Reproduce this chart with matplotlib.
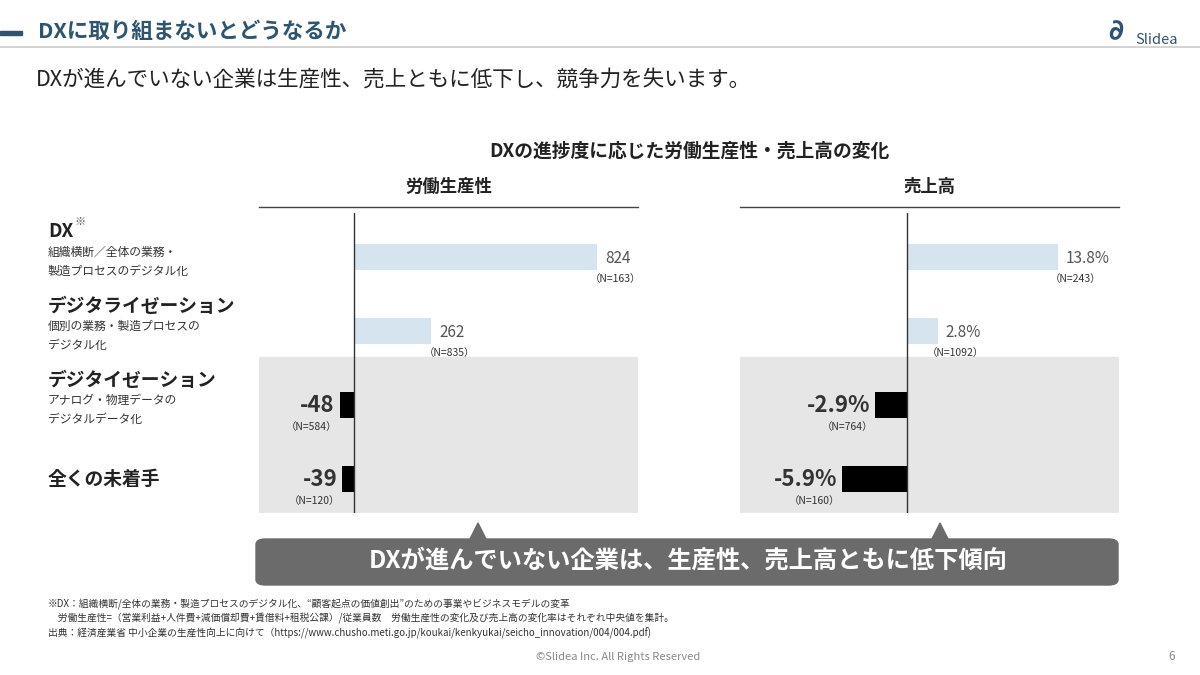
import matplotlib
matplotlib.use("Agg")
import matplotlib.pyplot as plt
from matplotlib.patches import Rectangle, FancyBboxPatch, Polygon

plt.rcParams['font.family'] = ['Noto Sans CJK JP', 'DejaVu Sans']

categories = ["DX", "デジタライゼーション", "デジタイゼーション", "全くの未着手"]
subtexts = ["組織横断／全体の業務・\n製造プロセスのデジタル化", "個別の業務・製造プロセスの\nデジタル化",
            "アナログ・物理データの\nデジタルデータ化", ""]
productivity = [824, 262, -48, -39]
productivity_n = [163, 835, 584, 120]
sales = [13.8, 2.8, -2.9, -5.9]
sales_n = [243, 1092, 764, 160]

W, H = 1200, 675
fig = plt.figure(figsize=(12, 6.75), dpi=100)

def fx(x): return x / W
def fy(y): return 1 - y / H

def txt(x, y, s, **kw):
    fig.text(fx(x), fy(y), s, **kw)

# header
fig.add_artist(Rectangle((0, fy(35)), fx(22), 4/H, color="#2f5470", transform=fig.transFigure))
txt(38, 32, "DXに取り組まないとどうなるか", fontsize=15.5, fontweight='bold', color="#2f5470", va='center')
fig.add_artist(plt.Line2D([0, 1], [fy(47), fy(47)], color="#cccccc", lw=1.2, transform=fig.transFigure))
txt(1156, 40, "Slidea", fontsize=10.5, color="#2f5470", va='center', ha='center')
txt(1116, 31, "∂", fontsize=20, color="#2f5470", va='center', ha='center', fontweight='bold', family='DejaVu Sans')
txt(36, 80, "DXが進んでいない企業は生産性、売上ともに低下し、競争力を失います。", fontsize=15.5, color="#222222", va='center')

txt(689, 151, "DXの進捗度に応じた労働生産性・売上高の変化", fontsize=13.5, fontweight='bold', ha='center', va='center', color="#222")

# row labels
rows_y = [257, 331, 405, 479]
for i, (c, s) in enumerate(zip(categories, subtexts)):
    y = rows_y[i]
    if s:
        txt(48, y - 25, c, fontsize=13.5, fontweight='bold', va='center', color="#222")
        txt(48, y + 5, s, fontsize=8.5, va='center', color="#333", linespacing=1.6)
    else:
        txt(48, y, c, fontsize=13.5, fontweight='bold', va='center', color="#222")
txt(74, 222, "※", fontsize=8, va='center', color="#555")

def panel(x0, x1, zero_x, scale_px, vals, ns, title, fmt):
    ax = fig.add_axes([fx(x0), fy(513), fx(x1) - fx(x0), (513 - 213) / H])
    xmin = -(zero_x - x0) / scale_px
    xmax = (x1 - zero_x) / scale_px
    ymax = 3 + 34/74
    ax.set_xlim(xmin, xmax)
    ax.set_ylim(ymax, -44/74)
    gstart = 1 + 26/74
    ax.add_patch(Rectangle((xmin, gstart), xmax - xmin, ymax - gstart, color="#e6e6e6", zorder=0))
    ypos = list(range(len(vals)))
    colors = ["#d5e4ee" if v > 0 else "#000000" for v in vals]
    ax.barh(ypos, vals, height=26/74, color=colors, zorder=2)
    ax.axvline(0, color="#333", lw=1, zorder=3)
    px = 1 / scale_px
    for y, v, n in zip(ypos, vals, ns):
        if v > 0:
            ax.text(v + 8 * px, y + 0.02, fmt(v), fontsize=11, color="#555", va='center', ha='left')
            ax.text(v + 18 * px, y + 0.3, f"（N={n}）", fontsize=7.5, color="#333", va='center', ha='center')
        else:
            ax.text(v - 5 * px, y, fmt(v), fontsize=16, fontweight='bold', color="#333", va='center', ha='right')
            ax.text(v - 28 * px, y + 0.3, f"（N={n}）", fontsize=7.5, color="#333", va='center', ha='center')
    ax.axis('off')
    txt((x0 + x1) / 2, 187, title, fontsize=12.5, fontweight='bold', ha='center', va='center', color="#222")
    fig.add_artist(plt.Line2D([fx(x0), fx(x1)], [fy(207), fy(207)], color="#444", lw=1, transform=fig.transFigure))

panel(259, 638, 354, 243/824, productivity, productivity_n, "労働生産性", lambda v: f"{v:g}")
panel(740, 1119, 907, 151/13.8, sales, sales_n, "売上高", lambda v: f"{v:.1f}%")

# callout
fig.add_artist(FancyBboxPatch((fx(256), fy(585)), fx(1118) - fx(256), (585 - 539) / H,
                              boxstyle="round,pad=0,rounding_size=0.008", color="#6b6b6b", transform=fig.transFigure))
for cx in (478, 940):
    fig.add_artist(Polygon([(fx(cx - 8), fy(539)), (fx(cx + 8), fy(539)), (fx(cx), fy(523))],
                           closed=True, color="#6b6b6b", transform=fig.transFigure))
txt(688, 561, "DXが進んでいない企業は、生産性、売上高ともに低下傾向", fontsize=17.5, fontweight='bold', color="white", ha='center', va='center')

# footnotes
notes = ["※DX：組織横断/全体の業務・製造プロセスのデジタル化、“顧客起点の価値創出”のための事業やビジネスモデルの変革",
         "　労働生産性=（営業利益+人件費+減価償却費+賃借料+租税公課）/従業員数　労働生産性の変化及び売上高の変化率はそれぞれ中央値を集計。",
         "出典：経済産業省 中小企業の生産性向上に向けて（https://www.chusho.meti.go.jp/koukai/kenkyukai/seicho_innovation/004/004.pdf)"]
for i, n in enumerate(notes):
    txt(48, 604 + i * 14.5, n, fontsize=7, color="#333", va='center')
txt(618, 657, "©Slidea Inc. All Rights Reserved", fontsize=8, color="#888", ha='center', va='center')
txt(1172, 657, "6", fontsize=8.5, color="#888", ha='center', va='center')

fig.savefig("out.png", dpi=100)
